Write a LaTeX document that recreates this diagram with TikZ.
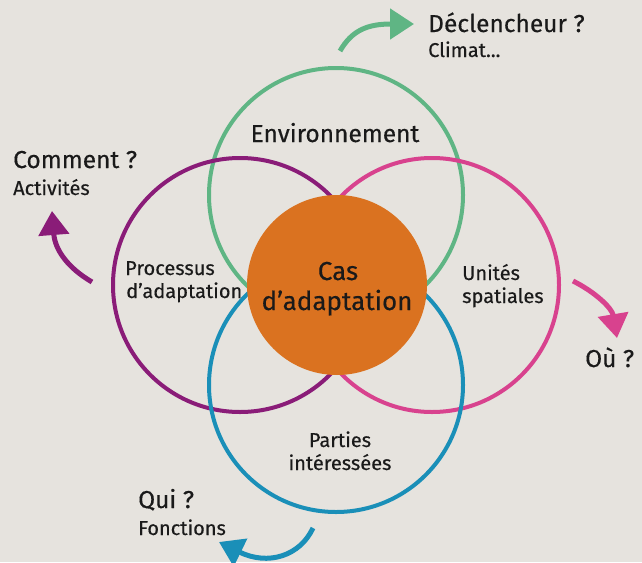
\documentclass[tikz,border=0pt]{standalone}
\usepackage{fontspec}
\setmainfont{Fira Sans}[FakeBold=0.35]
\usetikzlibrary{arrows.meta}
\definecolor{bg}{HTML}{E6E3DE}
\definecolor{cgreen}{HTML}{5FB584}
\definecolor{cpurple}{HTML}{8A1C78}
\definecolor{cpink}{HTML}{D8428E}
\definecolor{cblue}{HTML}{1A8FB8}
\definecolor{corange}{HTML}{DA7220}
\definecolor{ctext}{HTML}{1A1A1A}
\tikzset{
  ring/.style={circle, draw=#1, line width=4pt, minimum size=254pt, inner sep=0pt},
  bigtxt/.style={font=\fontsize{24.5}{28}\selectfont, text=ctext, inner sep=0pt},
  smalltxt/.style={font=\fontsize{20}{24}\selectfont, text=ctext, inner sep=0pt},
  castxt/.style={font=\fontsize{26}{30}\selectfont, text=ctext, inner sep=0pt},
  curvarrow/.style={draw=#1, line width=5pt, -{Triangle[length=24pt,width=30pt]}},
}
\begin{document}
\begin{tikzpicture}[x=1pt,y=-1pt]
\fill[bg] (0,0) rectangle (642,562);
\useasboundingbox (0,0) rectangle (642,562);

% rings
\node[ring=cgreen]  (env)  at (336,195) {};
\node[ring=cpurple] (proc) at (240,285) {};
\node[ring=cpink]   (unit) at (432,285) {};
\node[ring=cblue]   (part) at (336,385) {};
\node[circle, fill=corange, minimum size=180pt, inner sep=0pt] (cas) at (337,285) {};

% ring labels
\node[bigtxt, anchor=base] (tenv) at (335,142) {Environnement};
\node[castxt, anchor=base] (tcas1) at (338,280) {Cas};
\node[castxt, anchor=base] (tcas2) at (337,310) {d’adaptation};
\node[smalltxt, anchor=base west] (tproc1) at (125,275) {Processus};
\node[smalltxt, anchor=base west] (tproc2) at (126,298) {d’adaptation};
\node[smalltxt, anchor=base west] (tunit1) at (462,280) {Unités};
\node[smalltxt, anchor=base west] (tunit2) at (462,303) {spatiales};
\node[smalltxt, anchor=base] (tpart1) at (340,447) {Parties};
\node[smalltxt, anchor=base] (tpart2) at (340,470) {intéressées};

% outer labels
\node[bigtxt, anchor=base west] (tdecl) at (428,32) {Déclencheur ?};
\node[smalltxt, anchor=base west] (tclim) at (428,57) {Climat...};
\node[bigtxt, anchor=base west] (tcomm) at (13,168) {Comment ?};
\node[smalltxt, anchor=base west] (tacti) at (13,195) {Activités};
\node[bigtxt, anchor=base west] (tou) at (585,367) {Où ?};
\node[bigtxt, anchor=base west] (tqui) at (138,508) {Qui ?};
\node[smalltxt, anchor=base west] (tfonc) at (138,535) {Fonctions};

% arrows
\coordinate (ga) at (340,51);
\coordinate (gb) at (414,24);
\draw[curvarrow=cgreen] (ga) .. controls (352,30) and (368,24) .. (gb);
\coordinate (pa) at (92,282);
\coordinate (pb) at (52,211);
\draw[curvarrow=cpurple] (pa) .. controls (68,268) and (55,250) .. (pb);
\coordinate (ka) at (573,281);
\coordinate (kb) at (617,338);
\draw[curvarrow=cpink] (ka) .. controls (595,292) and (612,308) .. (kb);
\coordinate (ba) at (313,528);
\coordinate (bb) at (219,542);
\draw[curvarrow=cblue] (ba) .. controls (300,556) and (268,566) .. (bb);
\end{tikzpicture}
\end{document}
